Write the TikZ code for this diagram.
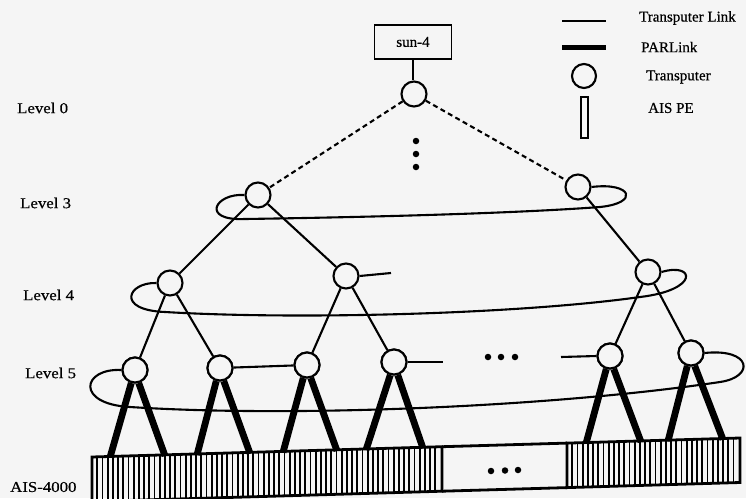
\documentclass[tikz,border=0pt]{standalone}
\usepackage{fontspec}
\setmainfont[FakeBold=0.5]{Liberation Serif}
\newfontfamily\labelfont[FakeStretch=1.12,FakeBold=0.5]{Liberation Serif}
\definecolor{paper}{gray}{0.96}
\begin{document}
\begin{tikzpicture}[x=1pt,y=-1pt,
  link/.style={line width=2.1pt},
  parlink/.style={line width=6.8pt},
  tp/.style={circle,draw,line width=2.1pt,fill=paper,minimum size=25pt,inner sep=0pt},
  lvl/.style={anchor=west,font=\labelfont\fontsize{15}{15}\selectfont,inner sep=0pt},
  legtext/.style={anchor=west,font=\fontsize{15}{15}\selectfont,inner sep=0pt},
  dot/.style={circle,fill,inner sep=0pt,minimum size=6.5pt},
  hatch/.style={line width=1.8pt},
  barframe/.style={line width=2.8pt},
]
\clip (0,0) rectangle (746,498);
\fill[paper] (0,0) rectangle (746,498);

% level labels
\node[lvl] (lab0) at (17,108) {Level 0};
\node[lvl] (lab3) at (20,203) {Level 3};
\node[lvl] (lab4) at (23,295) {Level 4};
\node[lvl] (lab5) at (25,373) {Level 5};
\node[lvl] (labais) at (10,487) {AIS-4000};

% host and transputer tree
\node[draw,line width=1.7pt,minimum width=77pt,minimum height=34pt,inner sep=0pt,
      font=\fontsize{15}{15}\selectfont] (sun) at (413,42) {sun-4};
\node[tp] (root) at (414,94) {};
\node[tp] (l3a) at (258,195) {};
\node[tp] (l3b) at (578,187) {};
\node[tp] (l4a) at (170,283) {};
\node[tp] (l4b) at (346,276) {};
\node[tp] (l4c) at (648,272) {};
\node[tp] (l5a) at (135,370) {};
\node[tp] (l5b) at (220,368) {};
\node[tp] (l5c) at (307,365) {};
\node[tp] (l5d) at (394,362) {};
\node[tp] (l5e) at (610,356) {};
\node[tp] (l5f) at (691,353) {};

% elided levels and elided nodes
\node[dot] (v1) at (416,141) {};
\node[dot] (v2) at (416,154) {};
\node[dot] (v3) at (416,167) {};
\node[dot] (h1) at (488,357) {};
\node[dot] (h2) at (501,357) {};
\node[dot] (h3) at (515,357) {};

\draw[link] (sun.south) -- (sun.south |- root.north);
\draw[link,dash pattern=on 5pt off 3.5pt] (root) -- (l3a);
\draw[link,dash pattern=on 5pt off 3.5pt] (root) -- (l3b);

\draw[link] (l3a) -- (l4a);
\draw[link] (l3a) -- (l4b);
\draw[link] (l3b) -- (l4c);
\draw[link] (l4a) -- (l5a);
\draw[link] (l4a) -- (l5b);
\draw[link] (l4b) -- (l5c);
\draw[link] (l4b) -- (l5d);
\draw[link] (l4c) -- (l5e);
\draw[link] (l4c) -- (l5f);
\draw[link] (l5b) -- (l5c);

% dangling links
\coordinate (s4b) at (391,273);
\coordinate (s5d) at (443,362);
\coordinate (s5e) at (561,357);
\draw[link] (l4b.east) -- (s4b);
\draw[link] (l5d.east) -- (s5d);
\draw[link] (s5e) -- (l5e.west);

% ring links of each level
\draw[link] (l3a.west) .. controls (215,193) and (200,221) .. (245,219)
  .. controls (380,217) and (520,213) .. (600,207)
  .. controls (640,203) and (632,182) .. (l3b.east);
\draw[link] (l4a.west) .. controls (128,282) and (115,310) .. (165,312)
  .. controls (300,320) and (520,314) .. (640,297)
  .. controls (700,290) and (695,262) .. (l4c.east);
\draw[link] (l5a.west) .. controls (82,368) and (75,404) .. (130,407)
  .. controls (300,418) and (560,406) .. (720,382)
  .. controls (755,377) and (752,348) .. (l5f.east);

% AIS-4000 PE array
\foreach \x in {97.2,102.4,...,438} \draw[hatch] (\x,{457-0.0293*(\x-92)}) -- ++(0,44.5);
\foreach \x in {572.2,577.4,...,736} \draw[hatch] (\x,{457-0.0293*(\x-92)}) -- ++(0,44.5);
\draw[barframe] (92,501.5) -- (92,457) -- (442,446.7) -- (442,491.2) -- cycle;
\draw[barframe] (442,446.7) -- (567,443.1);
\draw[barframe] (442,491.2) -- (567,487.6);
\draw[barframe] (567,443.1) -- (740,438) -- (740,482.5) -- (567,487.6) -- cycle;
\node[dot] (m1) at (491,471) {};
\node[dot] (m2) at (505,470.5) {};
\node[dot] (m3) at (518,470) {};

% PARLinks from level 5 to the array
\foreach \n/\l/\r in {l5a/110/165, l5b/197/250, l5c/283/337, l5d/366/423, l5e/586/641, l5f/668/723} {
  \coordinate (\n-pl) at (\l,{458-0.0293*(\l-92)});
  \coordinate (\n-pr) at (\r,{458-0.0293*(\r-92)});
  \draw[parlink] (\n.-106) -- (\n-pl);
  \draw[parlink] (\n.-74) -- (\n-pr);
}
\foreach \n in {l5a,l5b,l5c,l5d,l5e,l5f} \draw[line width=2.1pt,fill=paper] (\n) circle (12.5pt);

% legend
\coordinate (k1a) at (562,21);  \coordinate (k1b) at (606,21);
\coordinate (k2a) at (562,47);  \coordinate (k2b) at (606,47);
\draw[link] (k1a) -- (k1b);
\draw[line width=5pt] (k2a) -- (k2b);
\node[tp,minimum size=24pt] (ktp) at (584,76) {};
\node[draw,line width=1.7pt,minimum width=7pt,minimum height=41pt,inner sep=0pt] (kpe) at (584.5,117.5) {};
\node[legtext] (t1) at (639,18) {Transputer Link};
\node[legtext] (t2) at (641,47) {PARLink};
\node[legtext] (t3) at (646,77) {Transputer};
\node[legtext] (t4) at (648,108) {AIS PE};
\end{tikzpicture}
\end{document}
